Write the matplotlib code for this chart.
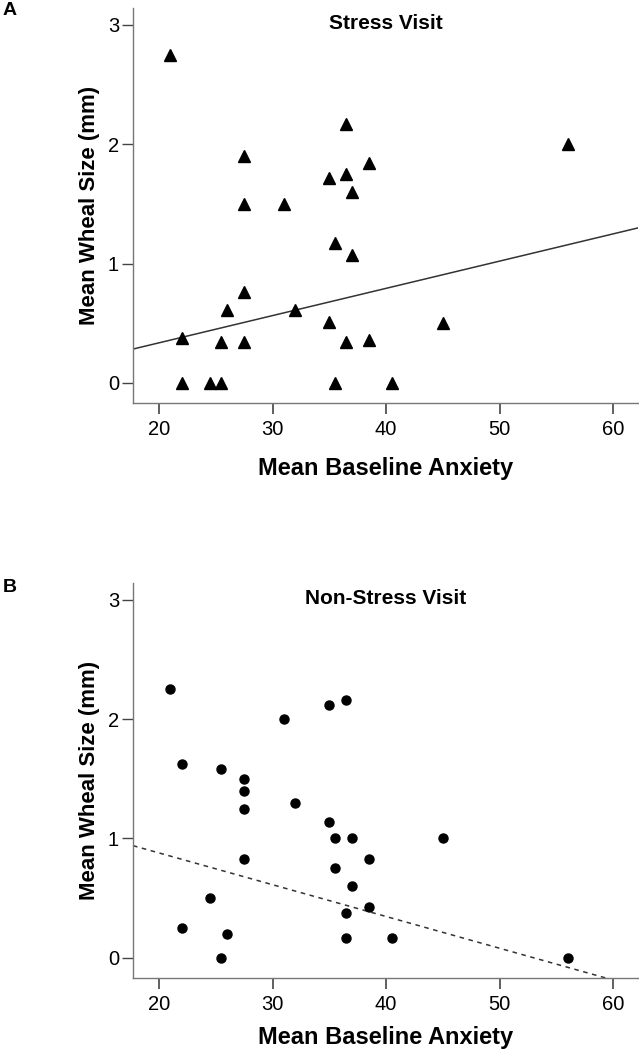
import numpy as np
import matplotlib.pyplot as plt

plt.rcParams['font.family'] = ['Liberation Sans', 'DejaVu Sans']

# anxiety scores (same subjects in both panels)
anxiety_a = [21, 36.5, 27.5, 38.5, 35, 36.5, 37, 27.5, 31, 35.5, 37, 27.5, 26, 32,
             22, 25.5, 27.5, 35, 36.5, 38.5, 22, 24.5, 25.5, 35.5, 40.5, 56, 45]
wheal_a = [2.75, 2.17, 1.90, 1.84, 1.72, 1.75, 1.60, 1.50, 1.50, 1.17, 1.07, 0.76, 0.61, 0.61,
           0.38, 0.34, 0.34, 0.51, 0.34, 0.36, 0, 0, 0, 0, 0, 2.0, 0.5]

anxiety_b = [21, 36.5, 35, 31, 22, 25.5, 27.5, 27.5, 27.5, 32, 35, 35.5, 37, 27.5,
             38.5, 35.5, 37, 24.5, 38.5, 36.5, 22, 26, 36.5, 40.5, 25.5, 45, 56]
wheal_b = [2.25, 2.16, 2.12, 2.0, 1.62, 1.58, 1.50, 1.40, 1.25, 1.30, 1.14, 1.0, 1.0, 0.83,
           0.83, 0.75, 0.60, 0.50, 0.43, 0.38, 0.25, 0.20, 0.17, 0.17, 0, 1.0, 0]

# fit lines as drawn in the figure (intercept, slope)
fit_a = (-0.12, 0.0228)
fit_b = (1.411, -0.0266)

xlim = (17.7, 62.2)
ylim = (-0.168, 3.14)
xticks = [20, 30, 40, 50, 60]
yticks = [0, 1, 2, 3]

fig = plt.figure(figsize=(6.39, 10.5), dpi=100)
ax_a = fig.add_axes([0.2081, 0.6162, 0.7903, 0.3762])
ax_b = fig.add_axes([0.2081, 0.0686, 0.7903, 0.3762])

panels = [
    (ax_a, anxiety_a, wheal_a, fit_a, '^', 8.5, '-', 'Stress Visit', 'A', 0.998, 13),
    (ax_b, anxiety_b, wheal_b, fit_b, 'o', 6.5, (0, (3, 3)), 'Non-Stress Visit', 'B', 0.449, 9),
]

for ax, x, y, fit, mk, ms, ls, title, letter, ly, xpad in panels:
    xs = np.array(xlim)
    ax.plot(xs, fit[0] + fit[1] * xs, color='#333333', lw=1.1, linestyle=ls)
    ax.plot(x, y, linestyle='none', marker=mk, ms=ms, color='black')
    ax.set_xlim(xlim)
    ax.set_ylim(ylim)
    ax.set_xticks(xticks)
    ax.set_yticks(yticks)
    for s in ['top', 'right']:
        ax.spines[s].set_visible(False)
    for s in ['left', 'bottom']:
        ax.spines[s].set_color('#777777')
        ax.spines[s].set_linewidth(1.0)
    ax.tick_params(axis='x', length=8, width=1.2, color='#444444', labelsize=14.5, pad=4)
    ax.tick_params(axis='y', length=8, width=1.0, color='#444444', labelsize=14.5, pad=2)
    ax.set_xlabel('Mean Baseline Anxiety', fontsize=17, fontweight='bold', labelpad=xpad)
    ax.set_ylabel('Mean Wheal Size (mm)', fontsize=16, fontweight='bold', labelpad=6)
    ax.text(0.5, 0.985, title, transform=ax.transAxes, ha='center', va='top',
            fontsize=15, fontweight='bold')
    fig.text(0.004, ly, letter, ha='left', va='top', fontsize=14, fontweight='bold')

fig.savefig('out.png', dpi=100)
